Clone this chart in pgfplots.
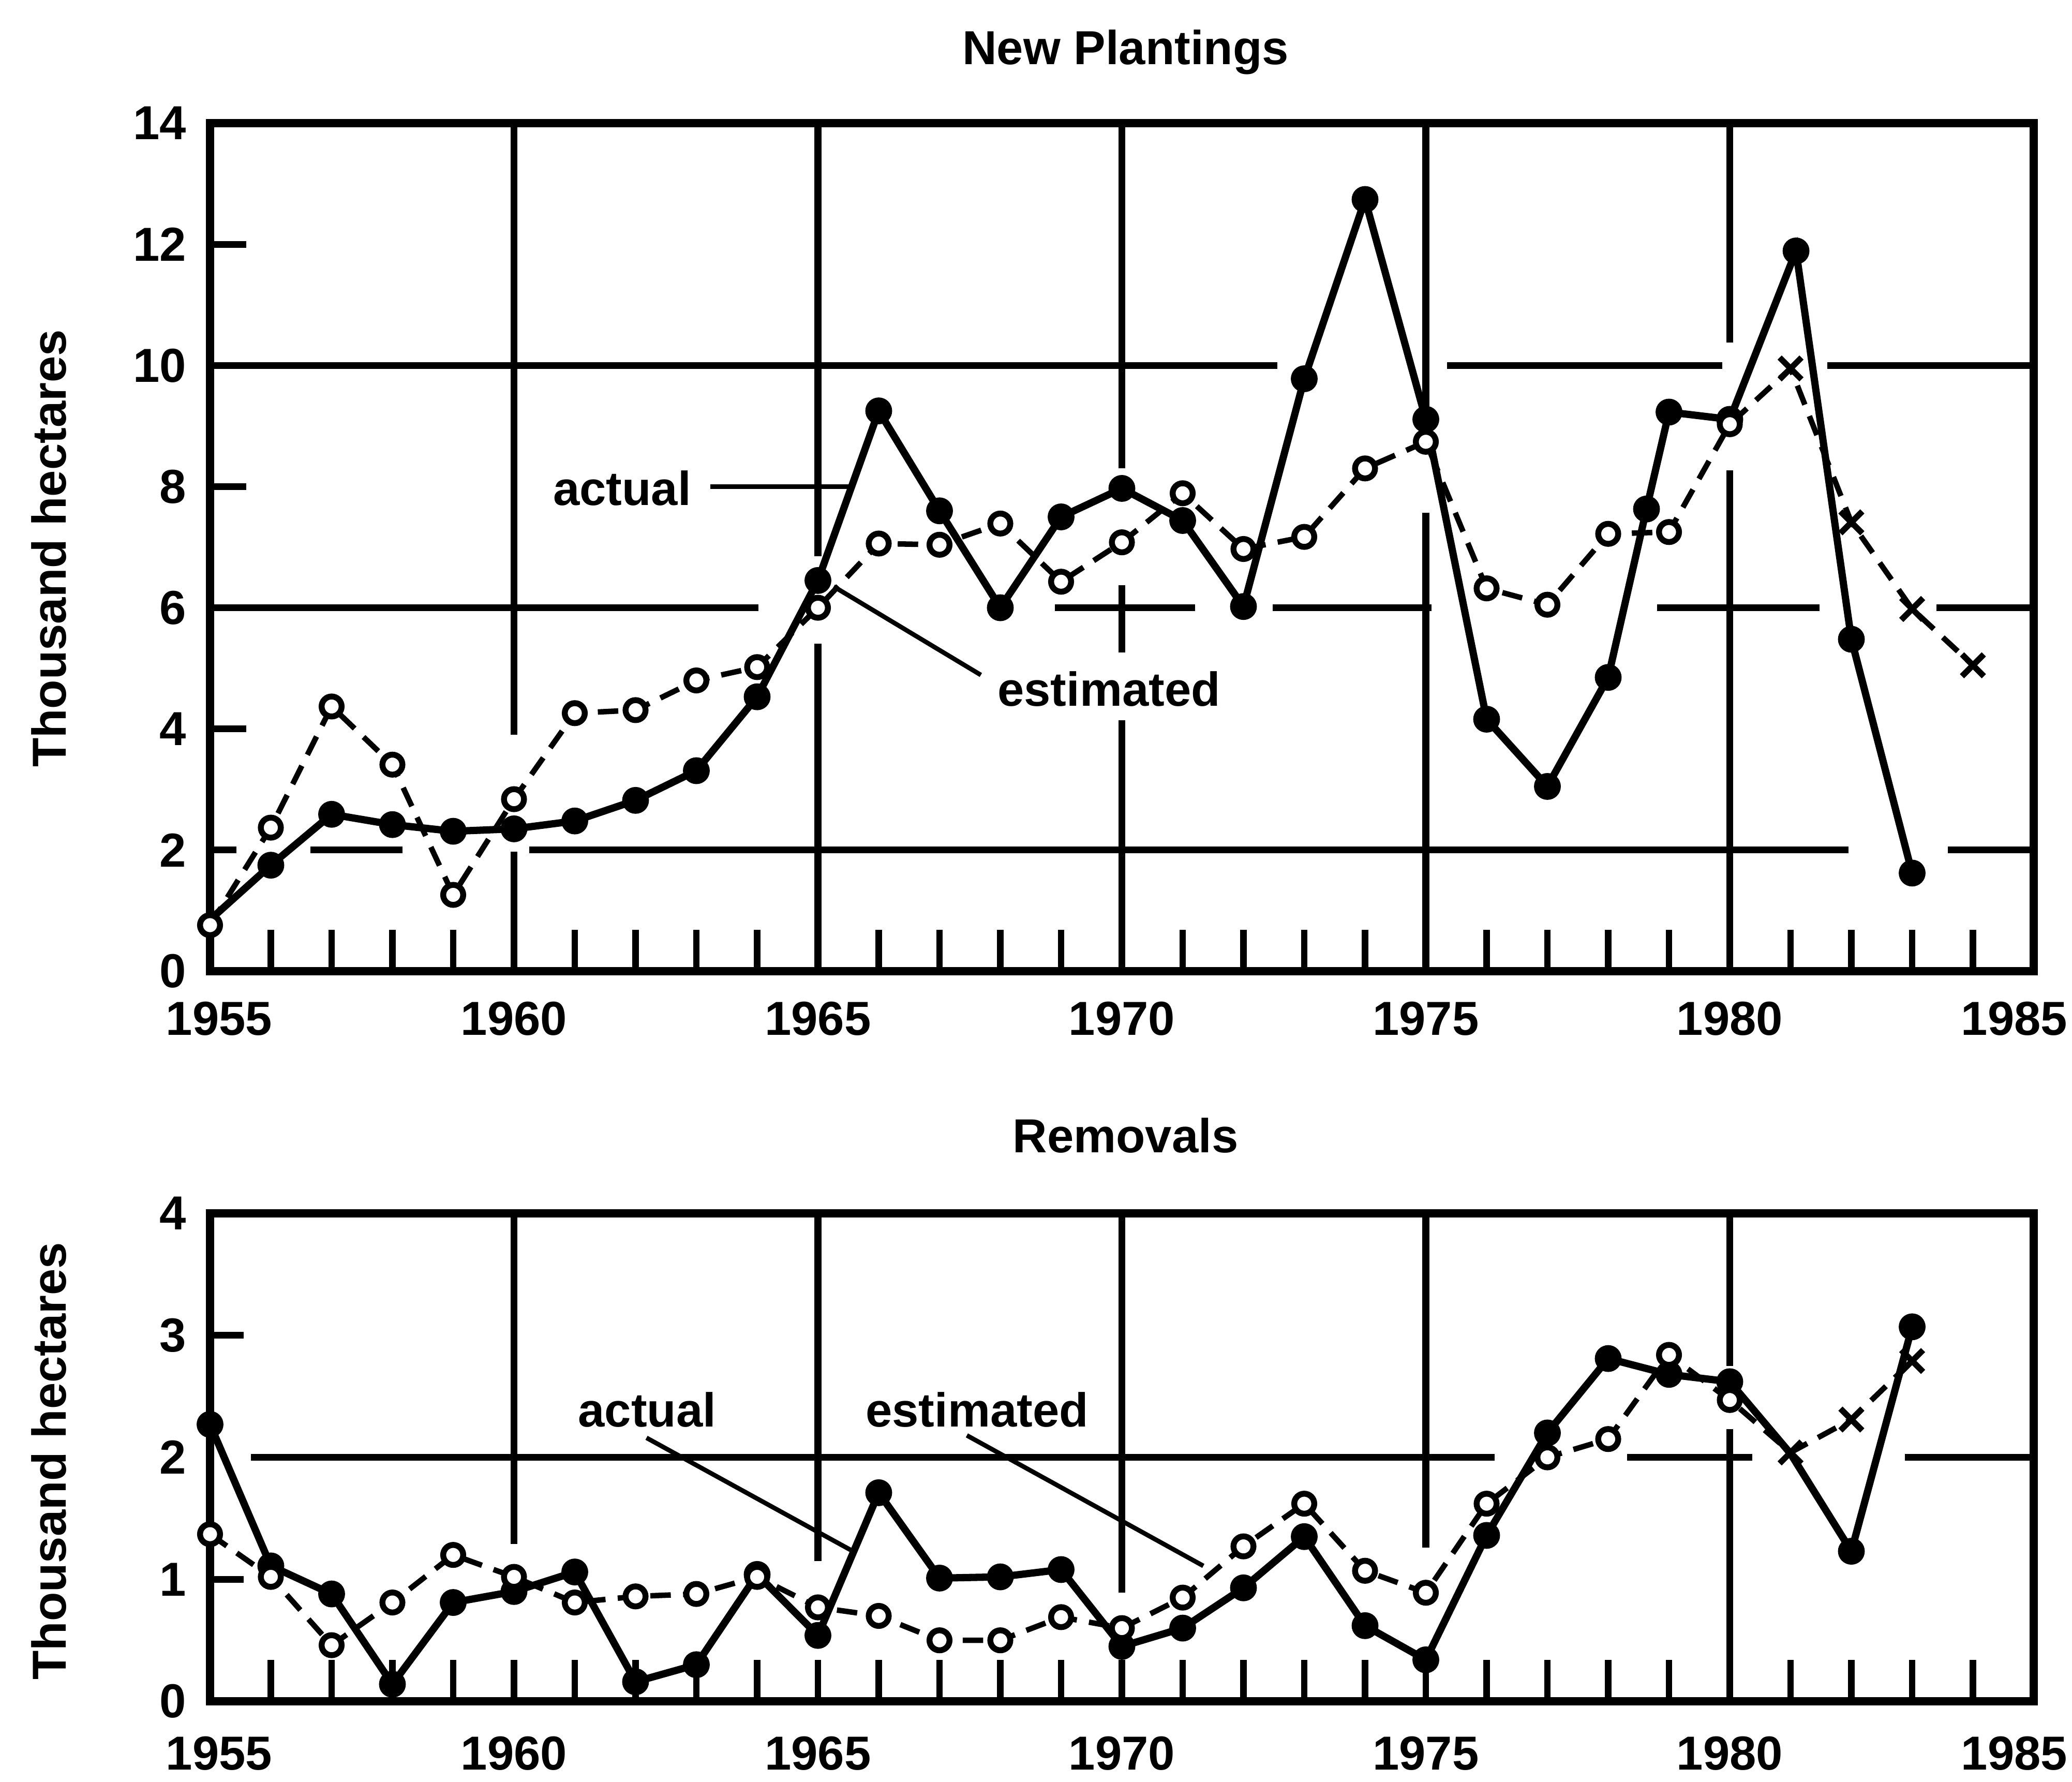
\documentclass[border=0pt]{standalone}
\usepackage{fontspec}
\setmainfont{Liberation Sans}
\usepackage{pgfplots}
\usepackage{pgfplotstable}
\pgfplotsset{compat=1.18}
\newcommand\lab{\fontsize{10.5}{12.6}\selectfont\bfseries}

\pgfplotstableread{
x y
1955 0.85
1956 1.75
1957 2.59
1958 2.42
1959 2.31
1960 2.35
1961 2.48
1962 2.82
1963 3.31
1964 4.53
1965 6.45
1966 9.25
1967 7.60
1968 6.00
1969 7.50
1970 7.97
1971 7.44
1972 6.02
1973 9.78
1974 12.74
1975 9.11
1976 4.16
1977 3.05
1978 4.85
1978.63 7.63
1979 9.23
1980 9.11
1981.09 11.89
1982 5.48
1983 1.62
}\topact

\pgfplotstableread{
x y
1955 0.76
1956 2.37
1957 4.37
1958 3.41
1959 1.26
1960 2.84
1961 4.26
1962 4.31
1963 4.80
1964 5.02
1965 6.00
1966 7.06
1967 7.04
1968 7.39
1969 6.43
1970 7.08
1971 7.89
1972 6.97
1973 7.17
1974 8.30
1975 8.74
1976 6.32
1977 6.05
1978 7.22
1979 7.25
1980 9.03
1981 9.95
1982 7.41
1983 5.98
1984 5.05
}\topest

\pgfplotstableread{
x y
1955 2.27
1956 1.11
1957 0.88
1958 0.14
1959 0.81
1960 0.90
1961 1.06
1962 0.16
1963 0.30
1964 1.04
1965 0.54
1966 1.71
1967 1.01
1968 1.02
1969 1.08
1970 0.45
1971 0.60
1972 0.93
1973 1.35
1974 0.62
1975 0.34
1976 1.36
1977 2.20
1978 2.81
1979 2.68
1980 2.62
1981 2.03
1982 1.23
1983 3.07
}\botact

\pgfplotstableread{
x y
1955 1.37
1956 1.02
1957 0.46
1958 0.81
1959 1.20
1960 1.02
1961 0.81
1962 0.86
1963 0.88
1964 1.02
1965 0.77
1966 0.70
1967 0.50
1968 0.50
1969 0.69
1970 0.60
1971 0.85
1972 1.27
1973 1.62
1974 1.07
1975 0.89
1976 1.62
1977 2.00
1978 2.15
1979 2.84
1980 2.47
1981 2.04
1982 2.31
1983 2.79
}\botest

\pgfplotsset{
  panel/.style={
    scale only axis, width=14.1cm,
    xmin=1955, xmax=1985, clip=false,
    xtick={1955,1960,...,1985},
    xticklabels={\hspace*{0.14cm}1955,1960,1965,1970,1975,1980,\hspace*{-0.3cm}1985},
    minor x tick num=4,
    tick align=inside, tick pos=left,
    major tick length=0.32cm, minor tick length=0.32cm,
    tick style={black, line width=1.4pt},
    ytick style={draw=none},
    axis line style={line width=1.8pt},
    ticklabel style={font=\lab},
    /pgf/number format/assume math mode=true,
    /pgf/number format/1000 sep={},
    yticklabel style={inner sep=0pt, xshift=-5pt},
  },
  actline/.style={black, line width=1.6pt, no marks},
  estline/.style={black, line width=1.2pt, dash pattern=on 4.5pt off 2.7pt, no marks},
  actmark/.style={only marks, mark=*, mark size=2.75pt, mark options={fill=black, draw=black, line width=0.4pt}},
  estmark/.style={only marks, mark=*, mark size=2.2pt, mark options={fill=white, draw=black, line width=1.3pt, solid}},
  xmark/.style={only marks, mark=x, mark size=3.4pt, mark options={black, line width=1.3pt, solid}},
}
\tikzset{
  gridl/.style={black, line width=1.5pt},
  pointer/.style={black, line width=1pt},
  txt/.style={font=\lab, inner sep=0pt},
}

\begin{document}
\begin{tikzpicture}
\useasboundingbox (-1.624cm,-0.62cm) rectangle (14.396cm,13.152cm);

% ---------------- Top: New Plantings ----------------
\begin{axis}[panel, at={(0,5.644cm)}, anchor=south west,
  height=6.556cm, ymin=0, ymax=14, ytick={0,2,...,14},
  xticklabel style={inner sep=0pt, anchor=north, yshift=-6.5pt}]
  % grid pieces
  \draw[gridl] (axis cs:1956.65,2) -- (axis cs:1958.17,2);
  \draw[gridl] (axis cs:1960.25,2) -- (axis cs:1981.95,2);
  \draw[gridl] (axis cs:1983.59,2) -- (axis cs:1985,2);
  \draw[gridl] (axis cs:1955,2) -- (axis cs:1955.43,2);
  \draw[gridl] (axis cs:1955,6) -- (axis cs:1964.02,6);
  \draw[gridl] (axis cs:1968.9,6) -- (axis cs:1971.2,6);
  \draw[gridl] (axis cs:1972.48,6) -- (axis cs:1975.09,6);
  \draw[gridl] (axis cs:1978.8,6) -- (axis cs:1981.48,6);
  \draw[gridl] (axis cs:1983.4,6) -- (axis cs:1985,6);
  \draw[gridl] (axis cs:1955,10) -- (axis cs:1972.56,10);
  \draw[gridl] (axis cs:1975.35,10) -- (axis cs:1979.88,10);
  \draw[gridl] (axis cs:1981.6,10) -- (axis cs:1985,10);
  \draw[gridl] (axis cs:1955,4) -- (axis cs:1955.6,4);
  \draw[gridl] (axis cs:1955,8) -- (axis cs:1955.6,8);
  \draw[gridl] (axis cs:1955,12) -- (axis cs:1955.6,12);
  \draw[gridl] (axis cs:1960,14) -- (axis cs:1960,3.9);
  \draw[gridl] (axis cs:1960,1.97) -- (axis cs:1960,0);
  \draw[gridl] (axis cs:1965,14) -- (axis cs:1965,6.85);
  \draw[gridl] (axis cs:1965,5.41) -- (axis cs:1965,0);
  \draw[gridl] (axis cs:1970,14) -- (axis cs:1970,8.3);
  \draw[gridl] (axis cs:1970,6.37) -- (axis cs:1970,5.26);
  \draw[gridl] (axis cs:1970,4.14) -- (axis cs:1970,0);
  \draw[gridl] (axis cs:1975,14) -- (axis cs:1975,9.24);
  \draw[gridl] (axis cs:1975,7.57) -- (axis cs:1975,0);
  \draw[gridl] (axis cs:1980,14) -- (axis cs:1980,10.38);
  \draw[gridl] (axis cs:1980,8.27) -- (axis cs:1980,0);
  % data
  \addplot[estline] table {\topest};
  \addplot[actline] table {\topact};
  \addplot[actmark, skip coords between index={0}{1}] table {\topact};
  \addplot[estmark, skip coords between index={26}{30}] table {\topest};
  \addplot[xmark, skip coords between index={0}{26}] table {\topest};
  % labels
  \node[txt, anchor=base] at (axis cs:1970.06,14.97) {New Plantings};
  \node[txt, rotate=90, anchor=base] at (axis cs:1952.63,6.98) {Thousand hectares};
  \node[txt, anchor=base west] at (axis cs:1960.63,7.69) {actual};
  \draw[pointer] (axis cs:1963.23,8.0) -- (axis cs:1965.56,8.0);
  \node[txt, anchor=base west] at (axis cs:1967.94,4.38) {estimated};
  \draw[pointer] (axis cs:1965.26,6.35) -- (axis cs:1967.68,4.89);
\end{axis}

% ---------------- Bottom: Removals ----------------
\begin{axis}[panel, at={(0,0)}, anchor=south west,
  height=3.772cm, ymin=0, ymax=4, ytick={0,1,2,3,4},
  xticklabel style={inner sep=0pt, anchor=north, yshift=-7.5pt}]
  \draw[gridl] (axis cs:1955.67,2) -- (axis cs:1976.13,2);
  \draw[gridl] (axis cs:1978.31,2) -- (axis cs:1980.37,2);
  \draw[gridl] (axis cs:1982.88,2) -- (axis cs:1985,2);
  \draw[gridl] (axis cs:1955,1) -- (axis cs:1955.55,1);
  \draw[gridl] (axis cs:1955,3) -- (axis cs:1955.55,3);
  \draw[gridl] (axis cs:1960,4) -- (axis cs:1960,1.29);
  \draw[gridl] (axis cs:1965,4) -- (axis cs:1965,1.15);
  \draw[gridl] (axis cs:1970,4) -- (axis cs:1970,0.89);
  \draw[gridl] (axis cs:1975,4) -- (axis cs:1975,1.26);
  \draw[gridl] (axis cs:1980,4) -- (axis cs:1980,2.75);
  \draw[gridl] (axis cs:1980,2.23) -- (axis cs:1980,0);
  \addplot[estline] table {\botest};
  \addplot[actline] table {\botact};
  \addplot[actmark, skip coords between index={26}{27}] table {\botact};
  \addplot[estmark, skip coords between index={26}{29}] table {\botest};
  \addplot[xmark, skip coords between index={0}{26}] table {\botest};
  \node[txt, anchor=base] at (axis cs:1970.06,4.5) {Removals};
  \node[txt, rotate=90, anchor=base] at (axis cs:1952.63,1.97) {Thousand hectares};
  \node[txt, anchor=base west] at (axis cs:1961.04,2.25) {actual};
  \node[txt, anchor=base west] at (axis cs:1965.77,2.25) {estimated};
  \draw[pointer] (axis cs:1962.18,2.16) -- (axis cs:1965.54,1.24);
  \draw[pointer] (axis cs:1967.45,2.18) -- (axis cs:1971.34,1.11);
\end{axis}
\end{tikzpicture}
\end{document}
